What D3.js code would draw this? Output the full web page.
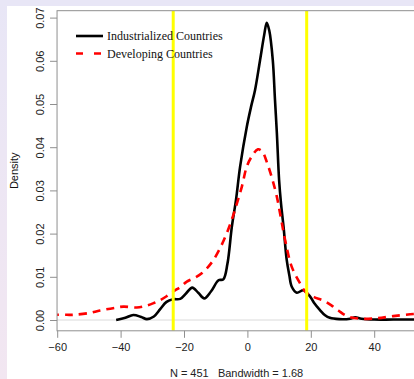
<!DOCTYPE html>
<html>
<head>
<meta charset="utf-8">
<script src="https://cdn.jsdelivr.net/npm/d3@7"></script>
<style>
  body { margin: 0; background: #e8e6f6; }
  svg { display: block; }
</style>
</head>
<body>
<div id="chart"></div>
<script>
// density estimates
const industrialX = [-41.4, -38.5, -36, -33.5, -31.7, -29.5, -27.5, -25.5, -23.4, -21.2, -19.3, -17.4, -15.5, -13.6, -11.5, -9.1, -7.6, -6.3, -4.9, -3.6, -2.3, -0.2, 1.2, 2.4, 4, 5.3, 6.1, 6.9, 8, 8.7, 9.3, 10, 10.6, 11.4, 12.4, 13.2, 14, 15.6, 17.7, 19.8, 21, 22.9, 24.5, 26, 29, 32.4, 34, 36, 40, 46, 55]
const industrialY = [0, 0.0005, 0.00116, 0.0007, 0.0002, 0.0008, 0.0025, 0.0042, 0.0048, 0.0049, 0.0062, 0.0075, 0.0063, 0.005, 0.0066, 0.0092, 0.0094, 0.013, 0.0216, 0.0278, 0.0355, 0.0447, 0.0495, 0.0532, 0.0602, 0.066, 0.0688, 0.067, 0.0602, 0.051, 0.0432, 0.0324, 0.027, 0.0216, 0.0139, 0.0105, 0.0077, 0.0063, 0.0069, 0.0054, 0.004, 0.0023, 0.0011, 0.0005, 0.0002, 0.0003, 0.0006, 0.0003, 0.0001, 0.0001, 0.0001]

const developingX = [-62, -57, -54.9, -50, -46.5, -42, -39.1, -34.9, -32, -29.6, -27.5, -25.5, -23.4, -21, -19.1, -16.5, -14.4, -12.5, -10.7, -8.5, -6.5, -4.8, -3.3, -1.7, -0.2, 1.5, 3.3, 4.7, 6.1, 7.7, 9.3, 10.6, 11.9, 14, 16.6, 18.7, 21, 24, 26.5, 28.7, 31.4, 35.6, 40.8, 46, 52.4, 55]
const developingY = [0.0012, 0.0012, 0.0012, 0.0016, 0.0022, 0.0028, 0.0031, 0.0029, 0.0033, 0.0039, 0.0046, 0.0055, 0.0066, 0.0077, 0.0089, 0.0098, 0.0108, 0.0122, 0.0139, 0.0168, 0.0201, 0.0235, 0.027, 0.031, 0.0355, 0.038, 0.0395, 0.039, 0.0366, 0.033, 0.0285, 0.0235, 0.0185, 0.0123, 0.0085, 0.0062, 0.0053, 0.0045, 0.0034, 0.0022, 0.0009, 0.0003, 0.0004, 0.0009, 0.0014, 0.0015]

const cutoffs = [-23.4, 18.7]
const xTicks = [-60, -40, -20, 0, 20, 40]
const yTicks = [0, 0.01, 0.02, 0.03, 0.04, 0.05, 0.06, 0.07]
const legendLabels = ["Industrialized Countries", "Developing Countries"]
const subtitle = "N = 451   Bandwidth = 1.68"

const w = 414
const h = 379

const svg = d3.select("#chart")
  .append("svg")
  .attr("width", w)
  .attr("height", h)

// page background: lavender frame with white canvas
const defs = svg.append("defs")
const grad = defs.append("linearGradient")
  .attr("id", "side")
  .attr("x1", 0).attr("y1", 0).attr("x2", 0).attr("y2", 1)
grad.append("stop").attr("offset", "0%").attr("stop-color", "#e8e6f6")
grad.append("stop").attr("offset", "100%").attr("stop-color", "#f2e6f1")

svg.append("rect").attr("width", w).attr("height", h).attr("fill", "#e8e6f6")
svg.append("rect").attr("x", 0).attr("y", 0).attr("width", 7).attr("height", h).attr("fill", "url(#side)")
svg.append("rect").attr("x", 7).attr("y", 6).attr("width", w - 7).attr("height", h - 6).attr("fill", "white")

const x = d3.scaleLinear().domain([-60, 40]).range([57.2, 374.2])
const y = d3.scaleLinear().domain([0, 0.07]).range([320, 17.6])

const pLeft = x(-60.05), pRight = x(53.2)
const pTop = y(0.0716), pBottom = y(-0.0025)

svg.append("clipPath").attr("id", "plot")
  .append("rect")
  .attr("x", pLeft).attr("y", pTop)
  .attr("width", pRight - pLeft).attr("height", pBottom - pTop)

const plot = svg.append("g").attr("clip-path", "url(#plot)")

// zero line
plot.append("line")
  .attr("x1", pLeft).attr("x2", pRight)
  .attr("y1", y(0)).attr("y2", y(0))
  .attr("stroke", "#dadada")
  .attr("stroke-width", 1)

const line = d3.line()
  .x(d => x(d[0]))
  .y(d => y(d[1]))
  .curve(d3.curveCatmullRom.alpha(0.5))

plot.append("path")
  .datum(industrialX.map((v, i) => [v, industrialY[i]]))
  .attr("d", line)
  .attr("fill", "none")
  .attr("stroke", "black")
  .attr("stroke-width", 2.6)

plot.append("path")
  .datum(developingX.map((v, i) => [v, developingY[i]]))
  .attr("d", line)
  .attr("fill", "none")
  .attr("stroke", "#ff0000")
  .attr("stroke-width", 2.6)
  .attr("stroke-dasharray", "8,6")

plot.selectAll(".cut")
  .data(cutoffs)
  .enter()
  .append("line")
  .attr("class", "cut")
  .attr("x1", d => x(d)).attr("x2", d => x(d))
  .attr("y1", pTop).attr("y2", pBottom)
  .attr("stroke", "#ffff00")
  .attr("stroke-width", 3)

// box
svg.append("rect")
  .attr("x", pLeft).attr("y", pTop)
  .attr("width", pRight - pLeft).attr("height", pBottom - pTop)
  .attr("fill", "none")
  .attr("stroke", "#8f8f8f")
  .attr("stroke-width", 1)

// axes
const xAxis = d3.axisBottom(x)
  .tickValues(xTicks)
  .tickSize(7)
  .tickSizeOuter(0)
  .tickPadding(5)
  .tickFormat(d => d < 0 ? "\u2212" + Math.abs(d) : d)

const gx = svg.append("g")
  .attr("transform", `translate(0, ${pBottom})`)
  .call(xAxis)
gx.select(".domain").remove()
gx.selectAll("line").attr("stroke", "#8f8f8f")
gx.selectAll("text")
  .attr("fill", "#222")
  .style("font-family", "'Liberation Sans', Arial, sans-serif")
  .style("font-size", "11px")

const yAxis = d3.axisLeft(y)
  .tickValues(yTicks)
  .tickSize(7)
  .tickSizeOuter(0)
  .tickFormat(d3.format(".2f"))

const gy = svg.append("g")
  .attr("transform", `translate(${pLeft}, 0)`)
  .call(yAxis)
gy.select(".domain").remove()
gy.selectAll("line").attr("stroke", "#8f8f8f")
gy.selectAll("text")
  .attr("x", 0).attr("dy", 0)
  .attr("text-anchor", "middle")
  .attr("transform", "translate(-17, 0) rotate(-90)")
  .attr("dominant-baseline", "central")
  .attr("fill", "#222")
  .style("font-family", "'Liberation Sans', Arial, sans-serif")
  .style("font-size", "11px")

svg.append("text")
  .attr("transform", `translate(14, ${(pTop + pBottom) / 2}) rotate(-90)`)
  .attr("text-anchor", "middle")
  .attr("dominant-baseline", "central")
  .style("font-family", "'Liberation Sans', Arial, sans-serif")
  .style("font-size", "11px")
  .attr("fill", "#111")
  .text("Density")

svg.append("text")
  .attr("x", (pLeft + pRight) / 2)
  .attr("y", 377)
  .attr("text-anchor", "middle")
  .style("font-family", "'Liberation Sans', Arial, sans-serif")
  .style("font-size", "11px")
  .style("white-space", "pre")
  .attr("fill", "#222")
  .text(subtitle)

// legend
const legend = svg.append("g")
legendLabels.forEach((lab, i) => {
  const ly = 36 + i * 17.5
  legend.append("line")
    .attr("x1", 76).attr("x2", 103)
    .attr("y1", ly).attr("y2", ly)
    .attr("stroke", i === 0 ? "black" : "#ff0000")
    .attr("stroke-width", 2.6)
    .attr("stroke-dasharray", i === 0 ? null : "7,11")
  legend.append("text")
    .attr("x", 107)
    .attr("y", ly)
    .attr("dominant-baseline", "central")
    .style("font-family", "'Liberation Serif', 'Times New Roman', serif")
    .style("font-size", "12px")
    .attr("fill", "#111")
    .text(lab)
})
</script>
</body>
</html>
